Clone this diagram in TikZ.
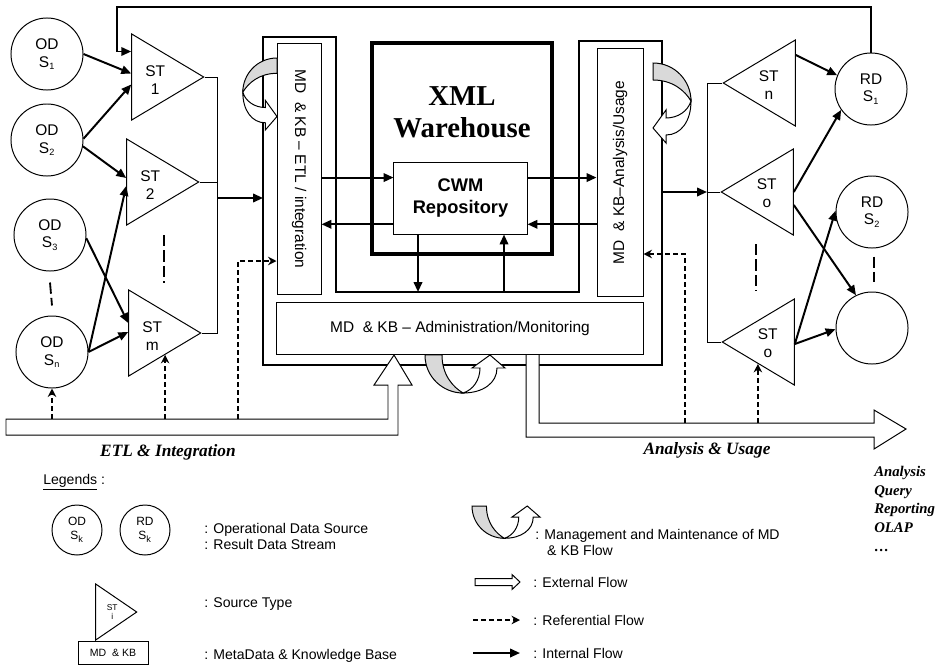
\documentclass[tikz,border=0pt]{standalone}
\usepackage{fontspec}
\setmainfont{Liberation Sans}
\newfontfamily\serifbi{Liberation Serif}
\usetikzlibrary{shapes.geometric, arrows.meta, calc}
\newcommand{\lowidx}[1]{\textsubscript{\fontsize{6.5}{7}\selectfont #1}}

\begin{document}
\begin{tikzpicture}[
    x=0.025cm, y=-0.025cm,
    font=\fontsize{11}{12.5}\selectfont,
    thinline/.style={draw, line width=0.7pt},
    flow/.style={line width=1.4pt, -{Triangle[length=7pt,width=6pt]}},
    ref/.style={line width=1.2pt, dash pattern=on 3.5pt off 2.2pt, -{Stealth[length=6pt,width=6pt]}},
    gap/.style={line width=1.3pt, dash pattern=on 8pt off 3pt},
    ods/.style={circle, draw, line width=0.7pt, minimum size=1.8cm, inner sep=0pt, align=center},
    stri/.style={isosceles triangle, isosceles triangle stretches, draw, line width=0.7pt, minimum height=1.8cm, minimum width=2.15cm, inner sep=0pt},
    stlabel/.style={align=center, inner sep=0pt},
    panel/.style={draw, line width=0.7pt, inner sep=0pt, align=center},
    flowtitle/.style={font={\serifbi\bfseries\itshape\fontsize{12.3}{14}\selectfont}},
    lgtext/.style={anchor=west, align=left, inner sep=0pt, font=\fontsize{10}{11.4}\selectfont},
    mmflow/.pic={
      \draw[line width=0.7pt, fill=gray!30] (0,0) .. controls (0,22) and (18,38) .. (38,38) .. controls (28,32) and (17,20) .. (17,0) -- cycle;
      \draw[line width=0.7pt, fill=white] (38,38) .. controls (58,38) and (72,28) .. (72,13) -- (80,13) -- (65,0) -- (47,13) -- (55,13) .. controls (55,25) and (48,35) .. (38,38) -- cycle;
    }
  ]
  \useasboundingbox (0,0) rectangle (945,671);

  % warehouse frame
  \coordinate (fl) at (263,37);
  \coordinate (fr) at (662,41);
  \coordinate (fb) at (336,292);
  \draw[line width=2pt] (fl) -- (336,37) -- (fb) -- (579,292) -- (579,41) -- (fr) -- (662,365) -- (263,365) -- cycle;
  \node (xml) [draw, line width=3.3pt, minimum width=4.5cm, minimum height=5.275cm] at (462,148.5) {};
  \node (xmltxt) [align=center, font={\serifbi\bfseries\fontsize{20.5}{22.5}\selectfont}] at (462,112) {XML\\Warehouse};
  \node (cwm) [panel, fill=white, minimum width=3.325cm, minimum height=1.8cm, font=\fontsize{13}{16}\selectfont\bfseries] at (460.5,198) {CWM\\Repository};
  \node (etl) [panel, rotate=-90, minimum width=6.25cm, minimum height=1.1cm] at (299,169) {MD~ \& KB – ETL / integration};
  \node (ana) [panel, rotate=90, minimum width=6.175cm, minimum height=1.15cm] at (620,172.5) {MD~ \& KB–Analysis/Usage};
  \node (adm) [panel, minimum width=9.15cm, minimum height=1.3cm] at (460,328) {MD~ \& KB – Administration/Monitoring};

  % sources and source types
  \node (ods1) [ods] at (47,54) {OD\\S\lowidx{1}};
  \node (ods2) [ods] at (47,140) {OD\\S\lowidx{2}};
  \node (ods3) [ods] at (50,235) {OD\\S\lowidx{3}};
  \node (odsn) [ods] at (52,352) {OD\\S\lowidx{n}};
  \node (st1) [stri, anchor=apex] at (205,77) {};
  \node (st2) [stri, anchor=apex] at (200,182) {};
  \node (stm) [stri, anchor=apex] at (202,333) {};
  \node (st1t) [stlabel] at ($(st1.lower side)+(24,3)$) {ST\\1};
  \node (st2t) [stlabel] at ($(st2.lower side)+(24,3)$) {ST\\2};
  \node (stmt) [stlabel] at ($(stm.lower side)+(24,3)$) {ST\\m};

  % result streams
  \node (stn) [stri, shape border rotate=180, anchor=apex] at (722,83) {};
  \node (sto1) [stri, shape border rotate=180, anchor=apex] at (720,192) {};
  \node (sto2) [stri, shape border rotate=180, anchor=apex] at (721,342) {};
  \node (stnt) [stlabel] at ($(stn.lower side)+(-27,2)$) {ST\\n};
  \node (sto1t) [stlabel] at ($(sto1.lower side)+(-27,1)$) {ST\\o};
  \node (sto2t) [stlabel] at ($(sto2.lower side)+(-27,1)$) {ST\\o};
  \node (rds1) [ods] at (871,89) {RD\\S\lowidx{1}};
  \node (rds2) [ods] at (872,212) {RD\\S\lowidx{2}};
  \node (rdsx) [ods] at (872,328) {};

  \draw[gap] ($(ods3.south)+(0,11)$) -- ($(odsn.north)+(0,-10)$);
  \draw[gap] ($(st2.lower side)+(38,53)$) -- ++(0,48);
  \draw[gap] ($(sto1.lower side)+(-38,52)$) -- ++(0,47);
  \draw[gap] ($(rds2.south)+(2,8)$) -- ++(0,25);

  \draw[flow] (ods1.east) -- ($(st1.lower side)+(0,-3.5)$);
  \draw[flow] (ods2.2) -- ($(st1.lower side)+(0,7.5)$);
  \draw[flow] (ods2.-10) -- ($(st2.lower side)+(0,-4)$);
  \draw[flow] (odsn.east) -- ($(st2.lower side)+(0,4)$);
  \draw[flow] (ods3.-5) -- ($(stm.lower side)+(0,-10)$);
  \draw[flow] (odsn.east) -- ($(stm.lower side)+(0,-1)$);

  \draw[thinline] (st1.apex) -- ++(12,0) coordinate (busl) |- (stm.apex);
  \draw[thinline] (st2.apex) -- (st2.apex -| busl);
  \coordinate (etlin) at (busl |- 0,198);
  \draw[flow] (etlin) -- (etlin -| fl);

  \draw[thinline] (stn.apex) -- ++(-15,0) coordinate (busr) |- (sto2.apex);
  \draw[thinline] (sto1.apex) -- (sto1.apex -| busr);
  \draw[flow] (fr |- sto1.apex) -- (busr |- sto1.apex);

  \draw[flow] ($(stn.lower side)+(0,-28)$) -- (rds1.158);
  \draw[flow] (sto1.lower side) -- (rds1.215);
  \draw[flow] ($(sto1.lower side)+(0,13)$) -- (rdsx.116);
  \draw[flow] ($(sto2.lower side)+(0,2)$) -- (rds2.178);
  \draw[flow] ($(sto2.lower side)+(0,2)$) -- (rdsx.182);

  \coordinate (fbk) at (117,7);
  \draw[flow] (rds1.north) |- (fbk) |- ($(st1.lower side)+(0,-25.5)$);

  % repository links
  \coordinate (cwmhi) at ($(cwm.north west)!0.22!(cwm.south west)$);
  \coordinate (cwmlo) at ($(cwm.north west)!0.86!(cwm.south west)$);
  \draw[flow] (etl.north |- cwmhi) -- (cwmhi);
  \draw[flow] (cwmlo) -- (etl.north |- cwmlo);
  \draw[flow] (cwm.east |- cwmhi) -- (ana.north |- cwmhi);
  \draw[flow] (ana.north |- cwmlo) -- (cwm.east |- cwmlo);
  \coordinate (cwmdn) at ($(cwm.south)+(-42.5,0)$);
  \coordinate (cwmup) at ($(cwm.south)+(43.5,0)$);
  \draw[flow] (cwmdn) -- (cwmdn |- fb);
  \draw[flow] (cwmup |- fb) -- (cwmup);

  % external flows
  \draw[thinline, fill=white] (6,419) coordinate (barl) -- (388,419) -- (388,385) -- (374,385) -- (394,355) -- (412,385) -- (398,385) -- (398,435) -- (6,435) -- cycle;
  \draw[thinline, fill=white] (526,355) -- (526,437) -- (874,437) -- (874,449) -- (906,429) -- (874,410) -- (874,423) -- (539,423) coordinate (barr) -- (539,355);
  \node (etltitle) [flowtitle] at (168,452) {ETL \& Integration};
  \node (anatitle) [flowtitle] at (707,450) {Analysis \& Usage};

  \pic[rotate=-90, scale=0.9] at (277,58) {mmflow};
  \pic[cm={0,-1,-1,0,(0,0)}] at (653,63) {mmflow};
  \pic at (425,355) {mmflow};

  \draw[ref] (odsn.south |- barl) -- (odsn.south);
  \draw[ref] (stm.right side |- barl) -- (stm.right side);
  \coordinate (refl) at (238,261);
  \draw[ref] (refl |- barl) -- (refl) -- (refl -| etl.south);
  \coordinate (refr) at (685,254);
  \draw[ref] (refr |- barr) -- (refr) -- (refr -| ana.south);
  \draw[ref] (sto2.left side |- barr) -- (sto2.left side);

  \node (uses) [anchor=north west, align=left, inner sep=0pt, font={\serifbi\bfseries\itshape\fontsize{10.5}{13.3}\selectfont}] at (874,466) {Analysis\\Query\\Reporting\\OLAP\\…};

  % legends
  \node (lgd) [lgtext] at (43,482) {\underline{Legends} :};
  \node (lgod) [ods, minimum size=1.25cm, font=\fontsize{8.5}{10}\selectfont] at (77,530) {OD\\S\lowidx{k}};
  \node (lgrd) [ods, minimum size=1.25cm, font=\fontsize{8.5}{10}\selectfont] at (145,530) {RD\\S\lowidx{k}};
  \node (lgodt) [lgtext] at (204,536) {: Operational Data Source\\: Result Data Stream};
  \node (lgst) [stri, minimum height=1.025cm, minimum width=1.4cm, anchor=apex] at (138,612) {};
  \node (lgstt0) [stlabel, font=\fontsize{6}{7}\selectfont] at ($(lgst.lower side)+(17,0)$) {ST\\i};
  \node (lgstt) [lgtext] at (204,604) {: Source Type};
  \node (lgmd) [panel, minimum width=1.75cm, minimum height=0.575cm, font=\fontsize{7.5}{9}\selectfont] at (113,652.5) {MD~ \& KB};
  \node (lgmdt) [lgtext] at (204,656) {: MetaData \& Knowledge Base};

  \pic[scale=0.85] at (472,506) {mmflow};
  \node (lgmmt) [lgtext] at (535,542.5) {: Management and Maintenance of MD\\\hspace*{8.5pt}\& KB Flow};
  \draw[thinline, fill=white] (475,578.5) -- (512,578.5) -- (512,574.5) -- (520,582) -- (512,589.5) -- (512,585.5) -- (475,585.5) -- cycle;
  \node (lgext) [lgtext] at (533,582) {: External Flow};
  \coordinate (lgra) at (473,620);
  \draw[ref] (lgra) -- ++(47,0);
  \node (lgreft) [lgtext] at (533,620) {: Referential Flow};
  \coordinate (lgfa) at (473,653);
  \draw[flow] (lgfa) -- ++(47,0);
  \node (lgint) [lgtext] at (533,653) {: Internal Flow};
\end{tikzpicture}
\end{document}
